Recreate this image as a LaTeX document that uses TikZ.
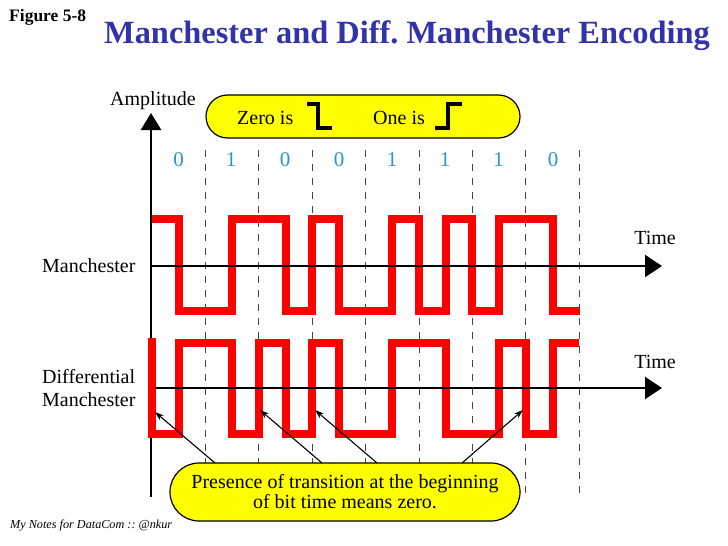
\documentclass[tikz,border=0pt]{standalone}
\usepackage{fontspec}
\setmainfont{Liberation Serif}
\usetikzlibrary{arrows.meta}
\definecolor{titleblue}{RGB}{50,50,170}
\definecolor{digitblue}{RGB}{40,150,200}
\definecolor{bubblefill}{RGB}{255,255,0}
\definecolor{wavered}{RGB}{255,0,0}
\definecolor{dashgray}{RGB}{70,70,70}
\tikzset{
  lbl/.style={inner sep=0pt, font=\fontsize{20}{23}\selectfont},
  digit/.style={inner sep=0pt, anchor=base, text=digitblue, font=\fontsize{21}{21}\selectfont},
  bubble/.style={draw=black, line width=1.2pt, fill=bubblefill},
  wave/.style={draw=wavered, line width=8pt, line join=miter, line cap=butt},
  grid/.style={draw=dashgray, line width=1pt, dash pattern=on 7pt off 7pt},
  vaxis/.style={draw=black, line width=2.5pt, -{Triangle[length=17pt,width=20pt]}},
  haxis/.style={draw=black, line width=2.5pt, -{Triangle[length=17pt,width=22pt]}},
  stepsym/.style={draw=black, line width=3.2pt, line join=miter},
  pointer/.style={draw=black, line width=1.1pt, -{Stealth[length=9pt,width=6pt]}}
}
\begin{document}
\frenchspacing
\begin{tikzpicture}[x=1pt,y=-1pt]
\useasboundingbox (0,0) rectangle (728,546);

% titles
\node[inner sep=0pt, anchor=base west, font=\bfseries\fontsize{17.5}{18}\selectfont] (fig) at (9,21) {Figure 5-8};
\node[inner sep=0pt, anchor=base west, text=titleblue, font=\bfseries\fontsize{32.4}{34}\selectfont] (title) at (104,43) {Manchester and Diff. Manchester Encoding};

% legend bubble
\node[bubble, rounded corners=21.5pt, minimum width=314pt, minimum height=43pt, inner sep=0pt] (legend) at (363,116.5) {};
\node[lbl, anchor=base west] (zero) at (237,124) {Zero is};
\node[lbl, anchor=base west] (one) at (373,124) {One is};
\draw[stepsym] (307,104) -- (318,104) -- (318,128) -- (332,128);
\draw[stepsym] (435,128) -- (448,128) -- (448,104) -- (462,104);

% amplitude label
\node[lbl, anchor=base] (amp) at (153,105) {Amplitude};

% bit digits
\node[digit] (d0) at (178.7,166) {0};
\node[digit] (d1) at (231,166) {1};
\node[digit] (d2) at (285,166) {0};
\node[digit] (d3) at (339,166) {0};
\node[digit] (d4) at (392,166) {1};
\node[digit] (d5) at (445,166) {1};
\node[digit] (d6) at (498.5,166) {1};
\node[digit] (d7) at (553,166) {0};

% dashed bit boundaries
\foreach \x in {205.4,258.8,312.2,365.6,419,472.4,525.8,579.2}
  \draw[grid] (\x,150) -- (\x,500);

% vertical axis
\coordinate (abot) at (151,497);
\coordinate (atop) at (151,113);
\draw[vaxis] (abot) -- (atop);

% Manchester waveform
\draw[wave] (152,219) -- (178.7,219) -- (178.7,311) -- (232.1,311) -- (232.1,219)
  -- (285.5,219) -- (285.5,311) -- (312.2,311) -- (312.2,219) -- (338.9,219)
  -- (338.9,311) -- (392.3,311) -- (392.3,219) -- (419,219) -- (419,311)
  -- (445.7,311) -- (445.7,219) -- (472.4,219) -- (472.4,311) -- (499.1,311)
  -- (499.1,219) -- (552.5,219) -- (552.5,311) -- (580,311);

% Differential Manchester waveform
\draw[wave] (151.5,338) -- (151.5,434) -- (178.7,434) -- (178.7,342.5) -- (232.1,342.5)
  -- (232.1,434) -- (258.8,434) -- (258.8,342.5) -- (285.5,342.5) -- (285.5,434)
  -- (312.2,434) -- (312.2,342.5) -- (338.9,342.5) -- (338.9,434) -- (392.3,434)
  -- (392.3,342.5) -- (445.7,342.5) -- (445.7,434) -- (499.1,434) -- (499.1,342.5)
  -- (525.8,342.5) -- (525.8,434) -- (552.5,434) -- (552.5,342.5) -- (579,342.5);

% time axes
\coordinate (m0) at (151,266);
\coordinate (m1) at (662,266);
\coordinate (n0) at (155,388);
\coordinate (n1) at (662,388);
\draw[haxis] (m0) -- (m1);
\draw[haxis] (n0) -- (n1);
\node[lbl, anchor=base] (time1) at (655,244) {Time};
\node[lbl, anchor=base] (time2) at (655,368) {Time};

% row labels
\node[lbl, anchor=base west] (manl) at (42,272) {Manchester};
\node[lbl, anchor=base west] (diffl1) at (42,383) {Differential};
\node[lbl, anchor=base west] (diffl2) at (42,406) {Manchester};

% note bubble
\node[bubble, rounded corners=29pt, minimum width=350pt, minimum height=58pt, inner sep=0pt,
  align=center, font=\fontsize{20}{20}\selectfont] (note) at (345,492)
  {Presence of transition at the beginning\\of bit time means zero.};

% pointers
\coordinate (t1) at (155,412);
\coordinate (t2) at (260,410);
\coordinate (t3) at (315,410);
\coordinate (t4) at (523,410);
\coordinate (s1) at (215,463);
\coordinate (s2) at (322,463);
\coordinate (s3) at (377,463);
\coordinate (s4) at (462,463);
\draw[pointer] (s1) -- (t1);
\draw[pointer] (s2) -- (t2);
\draw[pointer] (s3) -- (t3);
\draw[pointer] (s4) -- (t4);

% credit
\node[inner sep=0pt, anchor=base west, font=\itshape\fontsize{12.2}{13}\selectfont] (credit) at (10,528) {My Notes for DataCom :: @nkur};
\end{tikzpicture}
\end{document}
